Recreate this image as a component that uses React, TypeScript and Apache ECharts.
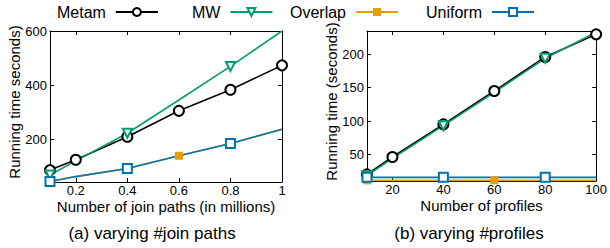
import React, { useEffect, useRef } from "react";
import * as echarts from "echarts";

// (a) varying #join paths
const joinPaths = [0.1, 0.2, 0.4, 0.6, 0.8, 1];
const metamA = [86, 124, 209, 305, 383, 473];
const mwA = [68, 120, 222, 345, 469, 600];
const overlapA = [44, 62, 92, 139, 184, 237];
const uniformA = [44, 62, 92, 139, 184, 237];
const xTicksA = [0.2, 0.4, 0.6, 0.8, 1];
const yTicksA = [200, 400, 600];

// (b) varying #profiles
const profiles = [10, 20, 40, 60, 80, 100];
const metamB = [20, 46, 95, 145, 196, 230];
const mwB = [18, 44, 93, 143, 194, 233];
const overlapB = [11, 11, 11, 11, 11, 11];
const uniformB = [15.5, 15.5, 15.5, 15.5, 15.5, 15.5];
const xTicksB = [20, 40, 60, 80, 100];
const yTicksB = [50, 100, 150, 200];

const seriesNames = ["Metam", "MW", "Overlap", "Uniform"];
const captions = ["(a) varying #join paths", "(b) varying #profiles"];

const FONT = "Liberation Sans, Arial, Helvetica, sans-serif";
const C_METAM = "#000000";
const C_MW = "#009e73";
const C_OVERLAP = "#e69f00";
const C_UNIFORM = "#0072b2";

function pts(xs: number[], ys: number[], every: number) {
  return xs.map((x, i) =>
    i % every === 0 ? { value: [x, ys[i]] } : { value: [x, ys[i]], symbol: "none" }
  );
}

export default function App() {
  const ref = useRef<HTMLDivElement>(null);
  useEffect(() => {
    if (!ref.current) return;
    const chart = echarts.init(ref.current, undefined, { renderer: "svg" });

    const axisLine = { show: true, lineStyle: { color: "#000", width: 1 } };
    const labelStyle = { fontFamily: FONT, fontSize: 13, color: "#000", lineHeight: 13 };
    const nameStyle = { fontFamily: FONT, fontSize: 15, color: "#000", lineHeight: 15 };

    const mkX = (grid: number, min: number, max: number, ticks: number[], name: string, main: boolean) => ({
      type: "value",
      gridIndex: grid,
      position: main ? "bottom" : "top",
      min,
      max,
      name: main ? name : "",
      nameLocation: "middle",
      nameGap: 17,
      nameMoveOverlap: false,
      nameTextStyle: nameStyle,
      axisLine,
      axisTick: { show: true, inside: true, length: 4, customValues: ticks, lineStyle: { color: "#000" } },
      axisLabel: { show: main, customValues: ticks, margin: 2, ...labelStyle, formatter: (v: number) => String(v) },
      splitLine: { show: false },
    });
    const mkY = (grid: number, min: number, max: number, ticks: number[], name: string, main: boolean) => ({
      type: "value",
      gridIndex: grid,
      position: main ? "left" : "right",
      min,
      max,
      name: main ? name : "",
      nameLocation: "middle",
      nameGap: 28,
      nameMoveOverlap: false,
      nameTextStyle: { ...nameStyle, padding: [0, 0, 0, 9] },
      axisLine,
      axisTick: { show: true, inside: true, length: 4, customValues: ticks, lineStyle: { color: "#000" } },
      axisLabel: { show: main, customValues: ticks, margin: 3, ...labelStyle },
      splitLine: { show: false },
    });

    const mkSeries = (xi: number, yi: number, xs: number[], data: number[][]) => {
      const [m, w, o, u] = data;
      return [
        {
          name: seriesNames[0], type: "line", xAxisIndex: xi, yAxisIndex: yi,
          data: pts(xs, m, 1), symbol: "emptyCircle", symbolSize: 10,
          lineStyle: { color: C_METAM, width: 1.6 }, itemStyle: { color: C_METAM, borderWidth: 1.6 },
        },
        {
          name: seriesNames[1], type: "line", xAxisIndex: xi, yAxisIndex: yi,
          data: pts(xs, w, 2), symbol: "emptyTriangle", symbolRotate: 180, symbolSize: 9,
          lineStyle: { color: C_MW, width: 1.6 }, itemStyle: { color: C_MW, borderWidth: 1.6 },
        },
        {
          name: seriesNames[2], type: "line", xAxisIndex: xi, yAxisIndex: yi,
          data: pts(xs, o, 3), symbol: "rect", symbolSize: 8,
          lineStyle: { color: C_OVERLAP, width: 1.6 }, itemStyle: { color: C_OVERLAP },
        },
        {
          name: seriesNames[3], type: "line", xAxisIndex: xi, yAxisIndex: yi,
          data: pts(xs, u, 2), symbol: "emptyRect", symbolSize: 9,
          lineStyle: { color: C_UNIFORM, width: 1.6 }, itemStyle: { color: C_UNIFORM, borderWidth: 1.6 },
        },
      ];
    };

    const legendLefts = [57, 192, 290, 426];

    chart.setOption({
      animation: false,
      backgroundColor: "#fff",
      legend: seriesNames.map((n, i) => ({
        data: [n],
        left: legendLefts[i],
        top: 4,
        align: "right",
        itemWidth: 42,
        itemHeight: 10,
        padding: 0,
        textStyle: { fontFamily: FONT, fontSize: 16, color: "#000", padding: [0, 5, 0, 0] },
      })),
      grid: [
        { left: 50, top: 31, width: 232, height: 151 },
        { left: 367, top: 31, width: 231, height: 150 },
      ],
      xAxis: [
        mkX(0, 0.1, 1, xTicksA, "Number of join paths (in millions)", true),
        mkX(0, 0.1, 1, xTicksA, "", false),
        mkX(1, 10, 100, xTicksB, "Number of profiles", true),
        mkX(1, 10, 100, xTicksB, "", false),
      ],
      yAxis: [
        mkY(0, 42, 600, yTicksA, "Running time seconds)", true),
        mkY(0, 42, 600, yTicksA, "", false),
        mkY(1, 10, 235, yTicksB, "Running time (seconds)", true),
        mkY(1, 10, 235, yTicksB, "", false),
      ],
      series: [
        ...mkSeries(0, 0, joinPaths, [metamA, mwA, overlapA, uniformA]),
        ...mkSeries(2, 2, profiles, [metamB, mwB, overlapB, uniformB]),
      ],
      graphic: [
        { type: "text", x: 152, y: 233, style: { text: captions[0], fontFamily: FONT, fontSize: 17, fill: "#000", textAlign: "center", textVerticalAlign: "middle" } },
        { type: "text", x: 469, y: 233, style: { text: captions[1], fontFamily: FONT, fontSize: 17, fill: "#000", textAlign: "center", textVerticalAlign: "middle" } },
      ],
    });
    return () => chart.dispose();
  }, []);
  return <div ref={ref} style={{ position: "fixed", left: 0, top: 0, width: 610, height: 248 }} />;
}
